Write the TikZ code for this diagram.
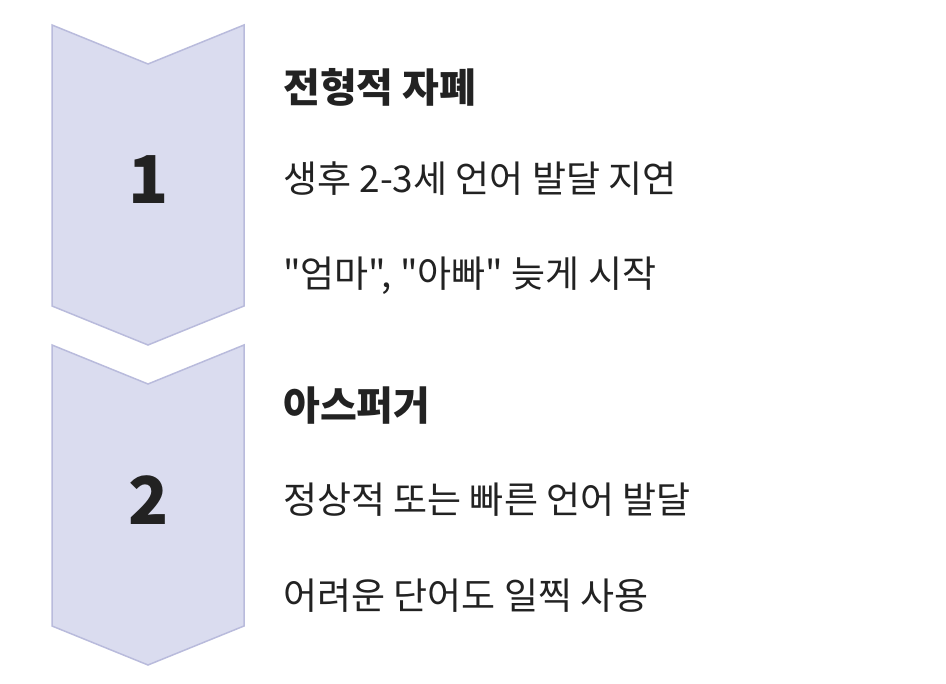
\documentclass[tikz,border=0pt]{standalone}
\usepackage{fontspec}
\setmainfont{Noto Sans CJK KR}
\newfontfamily\krfont{Noto Sans CJK KR}
\newfontfamily\krblack{Noto Sans CJK KR Black}
\definecolor{chevfill}{HTML}{DADCEF}
\definecolor{chevline}{HTML}{B9BBDC}
\definecolor{ink}{HTML}{222222}
\tikzset{
  chev/.style={fill=chevfill, draw=chevline, line width=1.5pt, line join=miter},
  numtxt/.style={text=ink, font=\krblack\fontsize{66}{70}\selectfont, inner sep=0pt},
  titletxt/.style={text=ink, anchor=west, font=\krblack\fontsize{40}{44}\selectfont, inner sep=0pt},
  bodytxt/.style={text=ink, anchor=west, font=\krfont\fontsize{37}{40}\selectfont, inner sep=0pt}
}
\begin{document}
\begin{tikzpicture}[x=1pt,y=-1pt]
\useasboundingbox (0,0) rectangle (946,684);
\fill[white] (0,0) rectangle (946,684);
% chevron 1
\draw[chev] (52,25) -- (148,64) -- (244,25) -- (244,306) -- (148,345) -- (52,306) -- cycle;
% chevron 2
\draw[chev] (52,345) -- (148,384) -- (244,345) -- (244,626) -- (148,665) -- (52,626) -- cycle;
\node[numtxt] (n1) at (149,180) {1};
\node[numtxt] (n2) at (149,500) {2};
\node[titletxt] (t1) at (283,87) {전형적 자폐};
\node[bodytxt] (b11) at (283,179) {생후 2-3세 언어 발달 지연};
\node[bodytxt] (b12) at (283,276) {"엄마", "아빠" 늦게 시작};
\node[titletxt] (t2) at (283,406) {아스퍼거};
\node[bodytxt] (b21) at (283,500) {정상적 또는 빠른 언어 발달};
\node[bodytxt] (b22) at (283,596) {어려운 단어도 일찍 사용};
\end{tikzpicture}
\end{document}
